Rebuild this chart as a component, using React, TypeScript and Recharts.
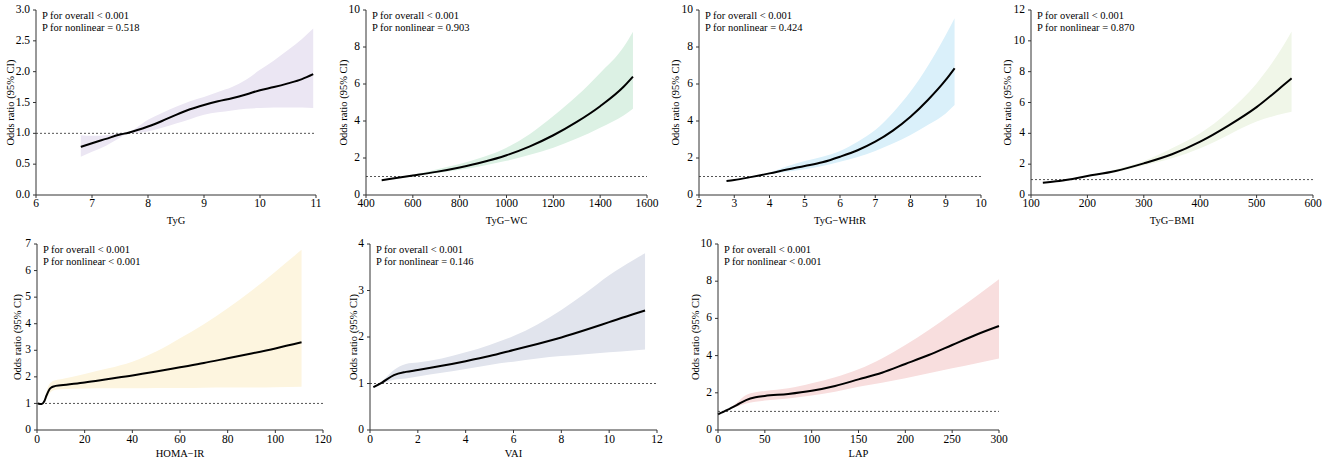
import { ComposedChart, Area, Line, XAxis, YAxis, ReferenceLine } from "recharts"

const FONT = '"Liberation Serif", "Times New Roman", serif'

// TyG
const tygX = [6.8, 7.0, 7.25, 7.5, 7.65, 8.0, 8.25, 8.5, 8.75, 9.0, 9.25, 9.5, 9.75, 10.0, 10.25, 10.5, 10.75, 10.95]
const tygOR = [0.78, 0.84, 0.91, 0.98, 1.01, 1.11, 1.2, 1.3, 1.39, 1.46, 1.52, 1.57, 1.63, 1.7, 1.75, 1.81, 1.88, 1.96]
const tygHi = [0.97, 0.96, 0.97, 1.0, 1.02, 1.22, 1.33, 1.43, 1.52, 1.59, 1.67, 1.75, 1.87, 2.03, 2.18, 2.35, 2.53, 2.7]
const tygLo = [0.62, 0.7, 0.8, 0.93, 1.0, 1.03, 1.09, 1.16, 1.23, 1.3, 1.34, 1.37, 1.4, 1.41, 1.42, 1.42, 1.42, 1.41]

// TyG-WC
const wcX = [467, 500, 600, 700, 800, 900, 1000, 1100, 1200, 1300, 1400, 1500, 1540]
const wcOR = [0.8, 0.86, 1.05, 1.25, 1.49, 1.78, 2.15, 2.63, 3.23, 3.95, 4.8, 5.85, 6.4]
const wcHi = [0.81, 0.88, 1.1, 1.38, 1.67, 2.05, 2.56, 3.3, 4.27, 5.35, 6.6, 8.0, 8.83]
const wcLo = [0.78, 0.84, 1.0, 1.17, 1.36, 1.58, 1.85, 2.17, 2.56, 3.05, 3.64, 4.3, 4.66]

// TyG-WHtR
const whtrX = [2.78, 3, 3.5, 4, 4.5, 5, 5.5, 6, 6.5, 7, 7.5, 8, 8.5, 9, 9.25]
const whtrOR = [0.76, 0.81, 0.98, 1.17, 1.38, 1.57, 1.77, 2.07, 2.42, 2.88, 3.48, 4.23, 5.15, 6.22, 6.85]
const whtrHi = [0.78, 0.84, 1.02, 1.22, 1.55, 1.84, 2.07, 2.38, 2.88, 3.51, 4.45, 5.59, 7.0, 8.65, 9.55]
const whtrLo = [0.74, 0.78, 0.94, 1.12, 1.26, 1.39, 1.57, 1.8, 2.05, 2.38, 2.78, 3.24, 3.8, 4.41, 4.86]

// TyG-BMI
const bmiX = [121, 150, 200, 250, 300, 350, 400, 450, 500, 550, 562]
const bmiOR = [0.8, 0.91, 1.23, 1.56, 2.05, 2.64, 3.46, 4.5, 5.7, 7.2, 7.57]
const bmiHi = [0.81, 0.93, 1.27, 1.66, 2.2, 3.03, 4.0, 5.4, 7.24, 9.84, 10.6]
const bmiLo = [0.79, 0.89, 1.19, 1.48, 1.92, 2.38, 3.03, 3.9, 4.76, 5.3, 5.4]

// HOMA-IR
const homaX = [0.3, 2, 3, 4, 5, 6, 7, 10, 20, 30, 40, 50, 60, 70, 80, 90, 100, 111]
const homaOR = [1.0, 0.98, 1.07, 1.3, 1.5, 1.6, 1.64, 1.68, 1.79, 1.92, 2.05, 2.2, 2.36, 2.52, 2.7, 2.88, 3.07, 3.3]
const homaHi = [1.02, 1.0, 1.12, 1.45, 1.7, 1.8, 1.85, 1.91, 2.11, 2.32, 2.57, 2.95, 3.45, 3.98, 4.58, 5.24, 5.96, 6.78]
const homaLo = [0.98, 0.96, 1.02, 1.18, 1.35, 1.45, 1.5, 1.53, 1.56, 1.57, 1.57, 1.58, 1.58, 1.59, 1.6, 1.6, 1.61, 1.63]

// VAI
const vaiX = [0.14, 0.5, 1, 1.5, 2, 3, 4, 5, 6, 7, 8, 9, 10, 11, 11.5]
const vaiOR = [0.92, 1.02, 1.18, 1.25, 1.29, 1.38, 1.48, 1.59, 1.72, 1.85, 1.99, 2.15, 2.32, 2.49, 2.57]
const vaiHi = [0.93, 1.05, 1.29, 1.42, 1.45, 1.54, 1.67, 1.83, 2.02, 2.27, 2.58, 2.94, 3.33, 3.65, 3.8]
const vaiLo = [0.9, 0.99, 1.08, 1.11, 1.15, 1.23, 1.31, 1.4, 1.47, 1.54, 1.59, 1.63, 1.67, 1.71, 1.73]

// LAP
const lapX = [0, 10, 20, 30, 40, 50, 75, 100, 125, 150, 175, 200, 225, 250, 275, 300]
const lapOR = [0.84, 1.08, 1.34, 1.61, 1.76, 1.83, 1.94, 2.11, 2.37, 2.72, 3.08, 3.55, 4.03, 4.57, 5.11, 5.59]
const lapHi = [0.86, 1.1, 1.47, 1.88, 2.03, 2.1, 2.24, 2.51, 2.83, 3.26, 3.85, 4.57, 5.38, 6.27, 7.17, 8.1]
const lapLo = [0.82, 1.05, 1.25, 1.43, 1.52, 1.58, 1.7, 1.85, 2.06, 2.33, 2.54, 2.78, 3.05, 3.32, 3.58, 3.85]

const xTickStyle = { fill: "#000", fontSize: 11.5, fontFamily: FONT }
const yTickStyle = { fill: "#000", fontSize: 11.5, fontFamily: FONT, dy: -1 }

function Panel(p: any) {
  const data = p.xs.map((x: number, i: number) => ({ x, or: p.or[i], band: [p.lo[i], p.hi[i]] }))
  const top = p.row === 0 ? 10 : 14
  const axisH = p.row === 0 ? 35 : 30
  return (
    <div style={{ position: "absolute", left: p.left, top: p.row === 0 ? 0 : 230, width: p.width, height: 230 }}>
      <ComposedChart width={p.width} height={230} data={data} margin={{ top, right: p.right, bottom: 0, left: 0 }}>
        <XAxis
          dataKey="x"
          type="number"
          domain={p.xDomain}
          ticks={p.xTicks}
          interval={0}
          height={axisH}
          stroke="#333"
          tickSize={3}
          tickMargin={p.row === 0 ? 1 : 2}
          tick={xTickStyle}
          label={{ value: p.xLabel, position: "insideBottom", offset: p.row === 0 ? 6 : 3, fill: "#000", fontSize: 10.5, fontFamily: FONT }}
        />
        <YAxis
          type="number"
          domain={p.yDomain}
          ticks={p.yTicks}
          interval={0}
          width={p.yWidth}
          stroke="#333"
          tickSize={3}
          tickMargin={3}
          tick={yTickStyle}
          tickFormatter={p.yFmt}
          label={{ value: "Odds ratio (95% CI)", angle: -90, position: "insideLeft", offset: p.yLabelX, fill: "#000", fontSize: 10.5, fontFamily: FONT, style: { textAnchor: "middle" } }}
        />
        <Area type="monotone" dataKey="band" fill={p.fill} fillOpacity={1} stroke="none" isAnimationActive={false} />
        <ReferenceLine y={1} stroke="#555" strokeDasharray="2 2" strokeWidth={1} />
        <Line type="monotone" dataKey="or" stroke="#000" strokeWidth={2} dot={false} isAnimationActive={false} />
      </ComposedChart>
      <div style={{ position: "absolute", left: p.yWidth + 6, top, fontFamily: FONT, fontSize: 10.5, lineHeight: "12px", color: "#000", whiteSpace: "nowrap" }}>
        <div>P for overall &lt; 0.001</div>
        <div>{p.nonlinear}</div>
      </div>
    </div>
  )
}

export default function App() {
  return (
    <div style={{ position: "fixed", left: 0, top: 0, width: 1325, height: 460, background: "#fff" }}>
      <Panel row={0} left={0} width={330} right={14} yWidth={36} yLabelX={10}
        xs={tygX} or={tygOR} lo={tygLo} hi={tygHi}
        xDomain={[6, 11]} xTicks={[6, 7, 8, 9, 10, 11]}
        yDomain={[0, 3]} yTicks={[0, 0.5, 1, 1.5, 2, 2.5, 3]} yFmt={(v: number) => v.toFixed(1)}
        fill="#ebe6f3" xLabel="TyG" nonlinear="P for nonlinear = 0.518" />
      <Panel row={0} left={330} width={331} right={14} yWidth={36} yLabelX={13}
        xs={wcX} or={wcOR} lo={wcLo} hi={wcHi}
        xDomain={[400, 1600]} xTicks={[400, 600, 800, 1000, 1200, 1400, 1600]}
        yDomain={[0, 10]} yTicks={[0, 2, 4, 6, 8, 10]}
        fill="#dcf1e4" xLabel="TyG−WC" nonlinear="P for nonlinear = 0.903" />
      <Panel row={0} left={660} width={335} right={14} yWidth={39} yLabelX={15}
        xs={whtrX} or={whtrOR} lo={whtrLo} hi={whtrHi}
        xDomain={[2, 10]} xTicks={[2, 3, 4, 5, 6, 7, 8, 9, 10]}
        yDomain={[0, 10]} yTicks={[0, 2, 4, 6, 8, 10]}
        fill="#daf0fa" xLabel="TyG−WHtR" nonlinear="P for nonlinear = 0.424" />
      <Panel row={0} left={995} width={330} right={12} yWidth={36} yLabelX={12}
        xs={bmiX} or={bmiOR} lo={bmiLo} hi={bmiHi}
        xDomain={[100, 600]} xTicks={[100, 200, 300, 400, 500, 600]}
        yDomain={[0, 12]} yTicks={[0, 2, 4, 6, 8, 10, 12]}
        fill="#f0f6e8" xLabel="TyG−BMI" nonlinear="P for nonlinear = 0.870" />
      <Panel row={1} left={0} width={335} right={12} yWidth={37} yLabelX={17}
        xs={homaX} or={homaOR} lo={homaLo} hi={homaHi}
        xDomain={[0, 120]} xTicks={[0, 20, 40, 60, 80, 100, 120]}
        yDomain={[0, 7]} yTicks={[0, 1, 2, 3, 4, 5, 6, 7]}
        fill="#fdf5df" xLabel="HOMA−IR" nonlinear="P for nonlinear < 0.001" />
      <Panel row={1} left={340} width={330} right={13} yWidth={30} yLabelX={13}
        xs={vaiX} or={vaiOR} lo={vaiLo} hi={vaiHi}
        xDomain={[0, 12]} xTicks={[0, 2, 4, 6, 8, 10, 12]}
        yDomain={[0, 4]} yTicks={[0, 1, 2, 3, 4]}
        fill="#e1e4ed" xLabel="VAI" nonlinear="P for nonlinear = 0.146" />
      <Panel row={1} left={680} width={330} right={11} yWidth={38} yLabelX={15}
        xs={lapX} or={lapOR} lo={lapLo} hi={lapHi}
        xDomain={[0, 300]} xTicks={[0, 50, 100, 150, 200, 250, 300]}
        yDomain={[0, 10]} yTicks={[0, 2, 4, 6, 8, 10]}
        fill="#f8dede" xLabel="LAP" nonlinear="P for nonlinear < 0.001" />
    </div>
  )
}
